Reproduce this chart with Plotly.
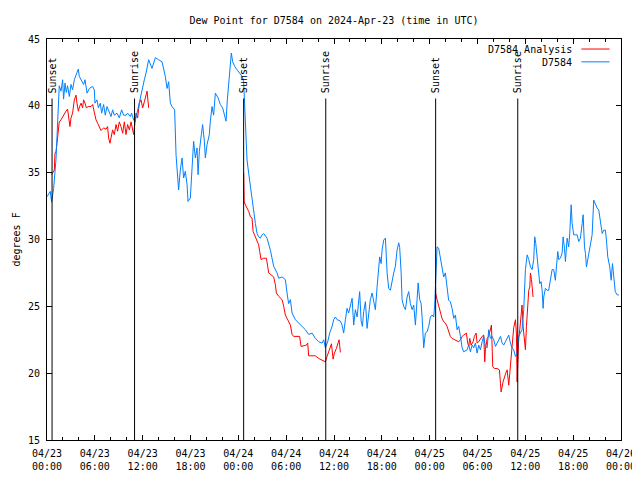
import plotly.graph_objects as go
import pandas as pd

BASE = pd.Timestamp("2024-04-23 00:00")

# ---- D7584 observations (hours after 2024-04-23 00:00 UTC, degrees F)
obs_hours = [0.00, 0.41, 0.58, 0.83, 1.13, 1.33, 1.42, 1.54, 1.76, 1.96, 2.08, 2.26, 2.42, 2.58, 2.80,
             3.01, 3.21, 3.43, 3.64, 3.93, 4.05, 4.27, 4.59, 4.77, 5.02, 5.31, 5.72, 5.93, 6.02, 6.27,
             6.44, 6.69, 6.85, 7.10, 7.31, 7.53, 7.82, 8.03, 8.23, 8.44, 8.78, 9.07, 9.36, 9.61, 9.91,
             10.11, 10.45, 10.61, 10.87, 11.04, 11.20, 11.37, 11.58, 11.79, 12.00, 12.21, 12.42,
             12.75, 13.17, 13.59, 14.00, 14.43, 14.84, 15.06, 15.26, 15.47, 15.68, 16.01, 16.19,
             16.51, 16.72, 16.94, 17.14, 17.35, 17.57, 17.69, 17.98, 18.19, 18.39, 18.61, 18.82,
             18.95, 19.11, 19.36, 19.52, 19.74, 19.86, 20.08, 20.36, 20.49, 20.70, 20.90, 21.12,
             21.46, 21.74, 22.03, 22.28, 22.46, 22.62, 22.79, 23.00, 23.12, 23.29, 23.54, 23.84,
             24.13, 24.47, 24.67, 24.76, 24.88, 25.01, 25.09, 25.30, 25.51, 25.72, 25.92, 26.14,
             26.35, 26.55, 26.76, 26.98, 27.18, 27.60, 28.02, 28.23, 28.43, 28.86, 29.06, 29.49,
             29.90, 30.11, 30.31, 30.53, 30.74, 31.15, 31.57, 31.99, 32.41, 32.82, 33.25, 33.66,
             34.08, 34.50, 34.71, 34.92, 35.21, 35.46, 35.76, 35.96, 36.17, 36.39, 36.80, 37.01,
             37.21, 37.43, 37.64, 37.84, 38.06, 38.27, 38.47, 38.68, 38.90, 39.10, 39.22, 39.40,
             39.56, 39.72, 39.94, 40.15, 40.35, 40.56, 40.78, 40.98, 41.19, 41.41, 41.61, 41.73,
             41.91, 42.03, 42.23, 42.45, 42.66, 42.86, 43.07, 43.29, 43.49, 43.70, 43.91, 44.12,
             44.24, 44.42, 44.54, 44.74, 44.96, 45.17, 45.37, 45.58, 45.80, 46.00, 46.21, 46.42,
             46.55, 46.75, 46.93, 47.05, 47.18, 47.25, 47.46, 47.68, 47.88, 48.09, 48.30, 48.51,
             48.63, 48.72, 48.84, 48.93, 49.13, 49.34, 49.55, 49.76, 49.97, 50.18, 50.38, 50.59,
             50.81, 51.02, 51.23, 51.44, 51.64, 51.86, 52.07, 52.27, 52.70, 52.90, 53.11, 53.32,
             53.53, 53.74, 53.95, 54.15, 54.37, 54.58, 54.78, 54.99, 55.21, 55.41, 55.62, 55.83,
             56.04, 56.25, 56.46, 56.66, 56.88, 57.09, 57.29, 57.50, 57.72, 57.92, 58.13, 58.34,
             58.54, 58.76, 58.97, 59.17, 59.38, 59.59, 59.80, 60.01, 60.23, 60.43, 60.64, 60.85,
             61.05, 61.18, 61.31, 61.48, 61.68, 61.81, 61.98, 62.11, 62.23, 62.31, 62.52, 62.73,
             62.93, 63.14, 63.36, 63.56, 63.77, 63.90, 64.07, 64.19, 64.40, 64.62, 64.74, 64.91,
             65.03, 65.24, 65.44, 65.57, 65.66, 65.75, 65.87, 66.07, 66.29, 66.50, 66.70, 66.91,
             67.13, 67.25, 67.42, 67.54, 67.67, 67.83, 67.96, 68.17, 68.38, 68.58, 68.80, 69.01,
             69.21, 69.42, 69.64, 69.84, 70.05, 70.17, 70.34, 70.59, 70.77, 70.93, 71.10, 71.28,
             71.53, 71.73]
obs_dewpt = [33.2, 33.6, 32.8, 33.8, 36.0, 38.5, 40.2, 41.5, 41.1, 41.95, 40.5, 41.7, 41.0, 41.5, 40.7,
             41.6, 41.2, 41.95, 42.3, 42.75, 42.2, 41.95, 41.6, 41.95, 40.95, 41.3, 41.45, 41.2, 40.2, 40.45,
             39.85, 40.2, 39.45, 40.1, 39.3, 39.95, 39.45, 39.2, 39.7, 39.3, 39.45, 39.1, 39.7, 39.3, 39.3,
             39.45, 39.2, 39.45, 38.95, 38.8, 39.2, 39.7, 40.2, 40.7, 41.45, 41.95, 42.45,
             43.45, 42.8, 43.6, 43.45, 43.3, 42.2, 41.3, 41.8, 40.2, 39.95, 39.7, 36.3,
             33.7, 35.2, 36.1, 34.6, 35.1, 34.1, 32.85, 33.1, 35.85, 37.35, 36.1, 36.85,
             34.85, 36.6, 37.85, 38.6, 37.35, 36.1, 37.1, 37.85, 38.85, 39.95, 39.3, 40.95,
             40.6, 40.1, 39.85, 39.3, 38.85, 40.45, 41.8, 43.1, 43.95, 43.3, 42.95, 42.7,
             42.45, 42.2, 41.8, 40.7, 39.2, 37.95, 35.95, 34.95, 33.95, 33.2, 32.2, 31.2,
             30.45, 30.2, 30.1, 30.35, 30.45, 30.1, 29.2, 28.5, 28.0, 27.5, 27.1, 27.2,
             27.0, 26.0, 25.2, 25.5, 24.5, 24.0, 23.75, 23.5, 23.25, 22.9, 23.0, 22.6,
             22.35, 22.25, 22.5, 21.9, 22.35, 23.0, 23.5, 24.0, 24.2, 24.0, 23.9, 23.6,
             23.0, 24.0, 24.85, 24.5, 25.2, 25.6, 23.6, 24.75, 24.2, 25.5, 26.1, 23.9,
             23.5, 24.6, 25.35, 23.35, 24.5, 25.5, 26.0, 25.35, 24.75, 26.5, 27.75, 28.7,
             28.2, 29.2, 29.95, 30.1, 27.5, 26.35, 26.2, 26.95, 27.5, 28.0, 29.2, 29.75,
             29.4, 27.5, 25.5, 25.0, 24.75, 25.7, 26.1, 25.2, 24.75, 25.1, 23.6, 25.5,
             26.75, 25.5, 25.2, 24.2, 22.75, 21.9, 23.0, 23.1, 23.5, 24.2, 24.35, 24.2,
             25.1, 27.0, 29.2, 29.45, 29.35, 28.6, 27.95, 27.2, 27.5, 26.2, 25.45, 25.35,
             24.85, 24.1, 24.35, 23.25, 23.5, 22.75, 21.9, 21.6, 21.75, 22.1, 21.6, 22.1,
             21.9, 22.25, 21.5, 22.1, 21.75, 22.35, 22.75, 22.0, 21.9, 23.25, 22.6, 22.75,
             22.5, 22.0, 22.25, 22.5, 22.75, 22.25, 22.1, 22.35, 22.6, 22.85, 22.25, 21.9,
             21.75, 21.25, 21.5, 22.75, 23.0, 23.25, 24.75, 27.75, 28.85, 28.5, 27.95, 27.75,
             28.5, 30.2, 29.7, 28.5, 26.95, 26.7, 26.85, 26.2, 24.85, 25.7, 26.35, 26.2,
             26.2, 26.95, 27.75, 27.75, 26.95, 27.95, 29.1, 28.5, 28.6, 29.0, 30.2, 29.35,
             28.35, 30.1, 29.45, 30.45, 31.35, 32.6, 31.2, 30.35, 30.35, 30.35, 29.85, 30.1,
             31.2, 31.85, 29.45, 28.95, 27.95, 28.5, 29.2, 29.95, 30.35, 32.95, 32.6, 32.35,
             32.2, 31.2, 30.45, 30.7, 30.7, 29.95, 28.7, 27.95, 26.95, 28.2, 27.2, 26.1,
             25.85, 25.85]

# ---- D7584 Analysis (three overnight segments)
ana1_hours = [0.58, 0.70, 0.92, 1.00, 1.13, 1.25, 1.33, 1.42, 1.54, 1.76, 1.96, 2.17, 2.38, 2.58, 2.71,
              2.88, 3.01, 3.21, 3.43, 3.64, 3.76, 3.93, 4.09, 4.27, 4.47, 4.59, 4.77, 4.93, 5.18, 5.52,
              5.72, 5.93, 6.15, 6.35, 6.56, 6.78, 7.10, 7.40, 7.60, 7.73, 7.90, 8.03, 8.23, 8.44, 8.66,
              8.86, 9.07, 9.28, 9.49, 9.70, 9.91, 10.11, 10.33, 10.54, 10.74, 10.87, 11.04, 11.17,
              11.37, 11.58, 11.79, 12.00, 12.21, 12.42, 12.55, 12.75]
ana1_dewpt = [34.85, 34.95, 35.2, 36.45, 36.6, 37.2, 37.7, 38.45, 38.8, 38.95, 39.2, 39.35, 39.6, 39.75, 39.2,
              38.45, 39.1, 39.45, 40.45, 40.8, 40.2, 39.6, 39.95, 40.2, 39.85, 40.45, 40.2, 39.85, 39.95, 39.95,
              40.1, 39.45, 38.95, 38.7, 38.35, 38.15, 38.35, 38.25, 38.45, 37.6, 37.2, 37.6, 38.2, 37.85, 38.6,
              38.1, 38.8, 38.45, 37.95, 38.8, 37.85, 38.6, 38.2, 38.8, 38.1, 37.85, 38.8, 39.45,
              39.1, 40.2, 40.45, 39.85, 40.3, 40.95, 41.1, 39.85]
ana2_hours = [24.67, 24.73, 24.88, 25.09, 25.30, 25.51, 25.72, 25.85, 26.01, 26.26, 26.42, 26.55, 26.68,
              26.85, 27.18, 27.52, 27.68, 27.81, 28.11, 28.43, 28.65, 28.77, 29.06, 29.49, 29.69, 29.90,
              30.11, 30.31, 30.53, 30.74, 30.94, 31.69, 31.87, 32.53, 32.70, 32.82, 33.66, 34.08, 34.50,
              34.92, 35.13, 35.35, 35.55, 35.68, 35.89, 36.05, 36.30, 36.46, 36.64, 36.80]
ana2_dewpt = [35.0, 32.85, 32.6, 32.35, 32.1, 31.7, 31.6, 30.6, 30.35, 30.1, 29.85, 29.6, 29.1,
              28.5, 28.6, 28.6, 28.0, 27.5, 27.35, 27.2, 26.6, 26.0, 25.75, 25.5, 25.0, 24.35,
              24.1, 23.85, 23.6, 22.9, 22.75, 22.75, 22.0, 22.1, 22.25, 21.3, 21.3, 21.1, 21.0,
              20.85, 21.25, 21.6, 22.0, 22.2, 21.05, 21.5, 21.85, 22.25, 22.5, 21.55]
ana3_hours = [48.72, 48.76, 48.93, 49.13, 49.34, 49.55, 49.76, 49.97, 50.18, 50.38, 50.59, 50.81, 51.23,
              51.64, 51.86, 52.07, 52.27, 52.61, 52.77, 52.90, 53.03, 53.20, 53.45, 53.61, 53.83, 53.95,
              54.15, 54.37, 54.58, 54.78, 54.91, 54.99, 55.21, 55.41, 55.62, 55.75, 55.91, 56.12, 56.46,
              56.75, 56.88, 56.96, 57.21, 57.38, 57.54, 57.72, 57.92, 58.05, 58.21, 58.34, 58.54, 58.76,
              58.88, 58.97, 59.05, 59.17, 59.30, 59.47, 59.59, 59.72, 59.88, 60.01, 60.14, 60.30, 60.43,
              60.56, 60.64, 60.77, 60.89, 60.97]
ana3_dewpt = [26.85, 25.95, 25.5, 25.0, 24.5, 24.1, 23.85, 23.75, 23.5, 23.1, 22.75, 22.6, 22.5,
              22.35, 22.5, 22.75, 22.85, 23.0, 22.25, 22.0, 22.6, 22.1, 22.35, 22.75, 23.0, 22.25,
              22.35, 22.6, 22.75, 22.85, 20.85, 21.75, 22.6, 22.75, 23.4, 23.6, 20.5, 20.35, 20.35,
              20.25, 19.25, 18.6, 19.35, 19.75, 20.0, 20.25, 19.1, 20.0, 21.0, 21.9, 23.4, 24.0,
              23.0, 19.35, 21.5, 22.6, 23.25, 24.2, 25.1, 23.5, 22.5, 21.75, 23.5, 25.1, 26.2,
              26.45, 27.5, 27.0, 26.2, 25.7]

# ---- sun events
sun_times = ["2024-04-23 00:38", "2024-04-23 10:59", "2024-04-24 00:40",
             "2024-04-24 10:58", "2024-04-25 00:45", "2024-04-25 11:03"]
sun_labels = ["Sunset", "Sunrise", "Sunset", "Sunrise", "Sunset", "Sunrise"]

# ---- axis ticks
x_tick_times = ["2024-04-23 00:00", "2024-04-23 06:00", "2024-04-23 12:00", "2024-04-23 18:00",
                "2024-04-24 00:00", "2024-04-24 06:00", "2024-04-24 12:00", "2024-04-24 18:00",
                "2024-04-25 00:00", "2024-04-25 06:00", "2024-04-25 12:00", "2024-04-25 18:00",
                "2024-04-26 00:00"]
x_tick_labels = ["04/23<br>00:00", "04/23<br>06:00", "04/23<br>12:00", "04/23<br>18:00",
                 "04/24<br>00:00", "04/24<br>06:00", "04/24<br>12:00", "04/24<br>18:00",
                 "04/25<br>00:00", "04/25<br>06:00", "04/25<br>12:00", "04/25<br>18:00",
                 "04/26<br>00:00"]
y_ticks = [15, 20, 25, 30, 35, 40, 45]


def to_time(hours):
    return [BASE + pd.to_timedelta(h, unit="h") for h in hours]


ana_x = to_time(ana1_hours) + [None] + to_time(ana2_hours) + [None] + to_time(ana3_hours)
ana_y = ana1_dewpt + [None] + ana2_dewpt + [None] + ana3_dewpt

FONT = "DejaVu Sans Mono"
RED = "#ff0000"
BLUE = "#0080ff"

# the page body adds an 8px offset; size the figure so the plot lands where the reference has it
W, H = 632, 472
fig = go.Figure()
fig.add_trace(go.Scatter(x=ana_x, y=ana_y, mode="lines", name="D7584 Analysis",
                         line=dict(color=RED, width=1), connectgaps=False))
fig.add_trace(go.Scatter(x=to_time(obs_hours), y=obs_dewpt, mode="lines", name="D7584",
                         line=dict(color=BLUE, width=1)))

sun_top = 40.55
for t, lab in zip(sun_times, sun_labels):
    fig.add_shape(type="line", xref="x", yref="y", x0=t, x1=t, y0=15, y1=sun_top,
                  line=dict(color="black", width=1))
    fig.add_annotation(x=t, y=sun_top, xref="x", yref="y", text=lab, textangle=-90,
                       showarrow=False, xanchor="center", yanchor="bottom", yshift=3,
                       font=dict(family=FONT, size=10, color="black"))

# legend drawn gnuplot-style (text, then sample line)
leg = [("D7584 Analysis", RED, 0.973), ("D7584", BLUE, 0.941)]
for name, col, yy in leg:
    fig.add_annotation(x=0.918, y=yy, xref="paper", yref="paper", text=name, showarrow=False,
                       xanchor="right", yanchor="middle", font=dict(family=FONT, size=10, color="black"))
    fig.add_shape(type="line", xref="paper", yref="paper", x0=0.931, x1=0.980, y0=yy + 0.002, y1=yy + 0.002,
                  line=dict(color=col, width=1))

fig.add_annotation(x=-0.054, y=0.5, xref="paper", yref="paper", text="degrees F", textangle=-90,
                   showarrow=False, xanchor="center", yanchor="middle",
                   font=dict(family=FONT, size=10, color="black"))

fig.update_layout(
    width=W, height=H,
    margin=dict(l=39, r=19, t=31, b=40, autoexpand=False),
    paper_bgcolor="white", plot_bgcolor="white",
    showlegend=False,
    font=dict(family=FONT, size=10, color="black"),
    title=dict(text="Dew Point for D7584 on 2024-Apr-23 (time in UTC)", x=0.5, xref="paper",
               y=1 - 12 / H, yanchor="middle", font=dict(family=FONT, size=10, color="black")),
)
fig.update_xaxes(
    range=["2024-04-23 00:00", "2024-04-26 00:00"],
    tickmode="array", tickvals=x_tick_times, ticktext=x_tick_labels,
    ticks="inside", ticklen=5, tickcolor="black", tickwidth=1, ticklabelstandoff=4,
    minor=dict(tickmode="linear", tick0="2024-04-23 00:00", dtick=2 * 3600 * 1000,
               ticks="inside", ticklen=3, tickcolor="black", tickwidth=1),
    showline=True, linecolor="black", linewidth=1, mirror="ticks",
    showgrid=False, zeroline=False, automargin=False,
    tickfont=dict(family=FONT, size=10, color="black"),
)
fig.update_yaxes(
    range=[15, 45], tickmode="array", tickvals=y_ticks,
    ticks="inside", ticklen=5, tickcolor="black", tickwidth=1, ticklabelstandoff=4,
    showline=True, linecolor="black", linewidth=1, mirror="ticks",
    showgrid=False, zeroline=False, automargin=False,
    tickfont=dict(family=FONT, size=10, color="black"),
)

fig.write_html("out.html")
